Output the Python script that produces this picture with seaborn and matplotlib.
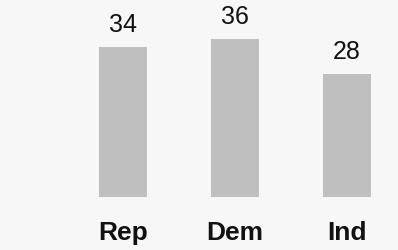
import matplotlib
matplotlib.use("Agg")
import matplotlib.pyplot as plt
import matplotlib.transforms as mtransforms
import seaborn as sns
import pandas as pd

categories = ["Rep", "Dem", "Ind"]
values = [34, 36, 28]

sns.set_style("white")
plt.rcParams["font.family"] = ["Liberation Sans", "DejaVu Sans"]

df = pd.DataFrame({"party": categories, "pct": values})

fig = plt.figure(figsize=(3.98, 2.51), dpi=100, facecolor="#f7f7f7")
ax = fig.add_axes([0, 0, 1, 1])
ax.set_facecolor("#f7f7f7")

sns.barplot(data=df, x="party", y="pct", color="#bfbfbf", saturation=1,
            width=48 / 112, linewidth=0, edgecolor="none", ax=ax)

scale = 4.4
base_px = 198
ax.set_xlim(-123 / 112, (398 - 123) / 112)
ax.set_ylim(-(251 - base_px) / scale, base_px / scale)

for i, v in enumerate(values):
    ax.annotate(str(v), xy=(i, v), xytext=(0, 16), textcoords="offset pixels",
                ha="center", va="baseline", fontsize=18, color="#111111")

trans = mtransforms.blended_transform_factory(ax.transData, ax.transAxes)
for i, c in enumerate(categories):
    ax.text(i, 1 - 240 / 251, c, transform=trans, ha="center", va="baseline",
            fontsize=19, fontweight="bold", color="#111111")

ax.set_xticks([])
ax.set_yticks([])
ax.set_xlabel("")
ax.set_ylabel("")
for s in ax.spines.values():
    s.set_visible(False)

fig.savefig("out.png", dpi=100, facecolor=fig.get_facecolor())
